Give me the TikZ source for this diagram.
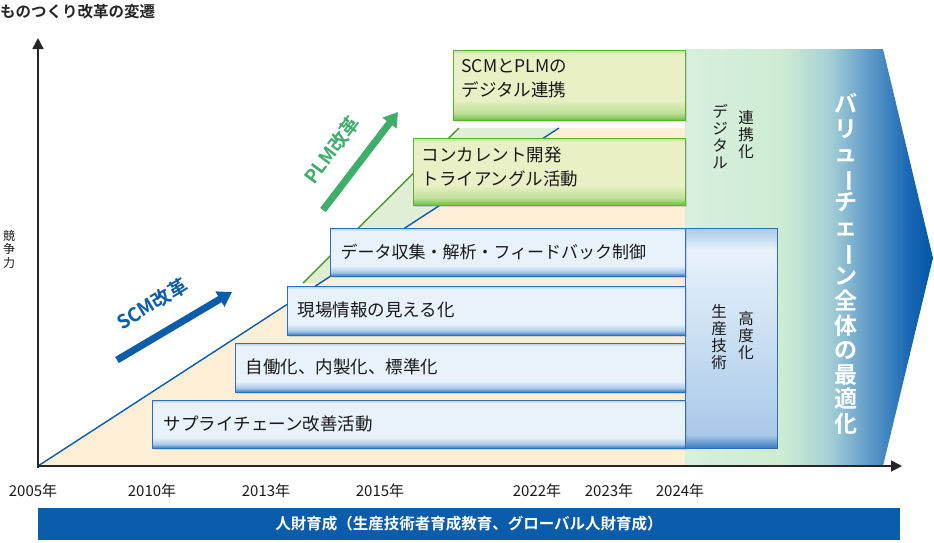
\documentclass[tikz,border=0pt]{standalone}
\usepackage{fontspec}
\usepackage{graphicx}
\setmainfont{Noto Sans CJK JP}
\newfontfamily\jpb{Noto Sans CJK JP}[BoldFont={* Bold}]
\usetikzlibrary{shadows,arrows.meta}
\definecolor{beige}{HTML}{FCEFD5}
\definecolor{lgreen}{HTML}{E0EED6}
\definecolor{sblue}{HTML}{0B5CAB}
\definecolor{pgreen}{HTML}{3FAE6A}
\definecolor{bedge}{HTML}{2F6FB8}
\definecolor{gedge}{HTML}{5AB030}
\definecolor{gA}{HTML}{D8EFDE}
\definecolor{gB}{HTML}{CDEBD3}
\definecolor{gC}{HTML}{A6D0D6}
\definecolor{gD}{HTML}{6AA2CC}
\definecolor{gE}{HTML}{1A68B4}
\definecolor{gF}{HTML}{0056A6}
\definecolor{bL}{HTML}{E8F2FB}
\definecolor{bM}{HTML}{A9C9E8}
\definecolor{bD}{HTML}{3A7CC0}
\definecolor{yL}{HTML}{EAF0C6}
\definecolor{yM}{HTML}{BFE09A}
\definecolor{yD}{HTML}{6CC040}
\pgfdeclarehorizontalshading{vc}{100bp}{color(0bp)=(gA); color(25bp)=(gA); color(45bp)=(gB); color(54bp)=(gC); color(61bp)=(gD); color(70bp)=(gE); color(75bp)=(gF); color(100bp)=(gF)}
\pgfdeclareverticalshading{bsh}{100bp}{color(0bp)=(bD); color(25bp)=(bD); color(29bp)=(bM); color(36bp)=(bL); color(72bp)=(bL); color(75bp)=(bM); color(100bp)=(bM)}
\pgfdeclareverticalshading{gsh}{100bp}{color(0bp)=(yD); color(25bp)=(yD); color(30bp)=(yM); color(40bp)=(yL); color(72bp)=(yL); color(75bp)=(yM); color(100bp)=(yM)}
\pgfdeclareverticalshading{blk}{100bp}{color(0bp)=(bD); color(25bp)=(bD); color(28bp)=(bM); color(45bp)=(bM!60!bL); color(70bp)=(bL); color(75bp)=(bM); color(100bp)=(bM)}
\newcommand\vbar{\rotatebox[origin=c]{-90}{ー}}
\tikzset{
  bbox/.style={draw=bedge, line width=0.8pt, shading=bsh, drop shadow={opacity=0.25, shadow xshift=2pt, shadow yshift=-2pt}},
  gbox/.style={draw=gedge, line width=0.8pt, shading=gsh, drop shadow={opacity=0.25, shadow xshift=2pt, shadow yshift=-2pt}},
  btxt/.style={anchor=west, font=\fontsize{17.5}{20}\selectfont, text=black!90},
  gtxt/.style={anchor=north west, align=left, font=\fontsize{17.5}{24}\selectfont, text=black!90},
  yr/.style={font=\fontsize{15}{17}\selectfont, text=black!90},
  vtx/.style={anchor=north, align=center, font=\fontsize{15.5}{17}\selectfont, text=black!90, inner sep=0pt},
  axis/.style={line width=1.6pt, draw=black!85, -{Triangle[length=11pt,width=11pt]}},
  bigarr/.style={line width=7pt, -{Triangle[length=14pt,width=17pt]}}
}
\begin{document}
\begin{tikzpicture}[x=1pt,y=-1pt]
\useasboundingbox (0,0) rectangle (934,542);
% big background arrow
\shade[shading=vc] (685,49) -- (883,49) -- (933,258) -- (883,466) -- (685,466) -- cycle;
% beige and green fields
\coordinate (O) at (38,466);
\coordinate (bl) at (559,128);
\coordinate (gl0) at (303,283);
\coordinate (gl1) at (459,128);
\fill[beige] (O) -- (bl) -- (685,128) -- (685,466) -- cycle;
\fill[lgreen] (gl0) -- (gl1) -- (bl) -- (320,283) -- cycle;
\draw[sblue, line width=1.4pt] (O) -- (bl);
\draw[gedge!85!black, line width=1.4pt] (gl0) -- (gl1);
% blue block
\shade[shading=blk, draw=bedge, line width=0.8pt] (685,228) rectangle (777,448);
% boxes
\path[bbox] (152,400) rectangle (685,448);
\path[bbox] (235,343) rectangle (685,392);
\path[bbox] (287,286) rectangle (685,335);
\path[bbox] (330,228) rectangle (685,276);
\path[gbox] (413,138) rectangle (685,205);
\path[gbox] (453,50) rectangle (685,120);
\node[btxt] (t1) at (160,424) {サプライチェーン改善活動};
\node[btxt] (t2) at (242,367) {自働化、内製化、標準化};
\node[btxt] (t3) at (294,310) {現場情報の見える化};
\node[btxt, font=\fontsize{17}{20}\selectfont] (t4) at (337,252) {データ収集・解析・フィードバック制御};
\node[gtxt] (t5) at (418,143) {コンカレント開発\\トライアングル活動};
\node[gtxt] (t6) at (458,55) {SCMとPLMの\\デジタル連携};
% vertical texts
\node[vtx] (v1) at (746,110) {連\\携\\化};
\node[vtx] (v2) at (720,104) {デ\\ジ\\タ\\ル};
\node[vtx] (v3) at (746,311) {高\\度\\化};
\node[vtx] (v4) at (719,304) {生\\産\\技\\術};
\node[anchor=north, align=center, inner sep=0pt, text=white, font=\jpb\bfseries\fontsize{23}{24.6}\selectfont] (vv) at (846,93)
  {バ\\リ\\ュ\\\vbar\\チ\\ェ\\\vbar\\ン\\全\\体\\の\\最\\適\\化};
% reform arrows
\coordinate (sa0) at (117,360); \coordinate (sa1) at (232,292);
\draw[sblue, bigarr] (sa0) -- (sa1);
\node[rotate=31, text=sblue, font=\jpb\bfseries\fontsize{19}{20}\selectfont, inner sep=0pt] (scm) at (152,304) {SCM改革};
\coordinate (pa0) at (323,210); \coordinate (pa1) at (398,112);
\draw[pgreen, bigarr] (pa0) -- (pa1);
\node[rotate=53, text=pgreen, font=\jpb\bfseries\fontsize{19}{20}\selectfont, inner sep=0pt] (plm) at (332,150) {PLM改革};
% axes
\coordinate (ytop) at (38,38); \coordinate (xend) at (902,466);
\draw[axis] (38,468) -- (ytop);
\draw[axis] (37,466) -- (xend);
% labels
\node[anchor=north west, inner sep=0pt, font=\jpb\bfseries\fontsize{15.5}{17}\selectfont, text=black!85] (title) at (0,4) {ものつくり改革の変遷};
\node[vtx, font=\fontsize{12}{13.5}\selectfont] (kyo) at (9,230) {競\\争\\力};
\node[yr] (y1) at (33,491) {2005年};
\node[yr] (y2) at (152,491) {2010年};
\node[yr] (y3) at (266,491) {2013年};
\node[yr] (y4) at (380,491) {2015年};
\node[yr] (y5) at (537,491) {2022年};
\node[yr] (y6) at (609,491) {2023年};
\node[yr] (y7) at (680,491) {2024年};
\fill[sblue] (38,508) rectangle (900,540);
\node[text=white, font=\jpb\bfseries\fontsize{15.5}{17}\selectfont] (hr) at (469,524) {人財育成（生産技術者育成教育、グローバル人財育成）};
\end{tikzpicture}
\end{document}
